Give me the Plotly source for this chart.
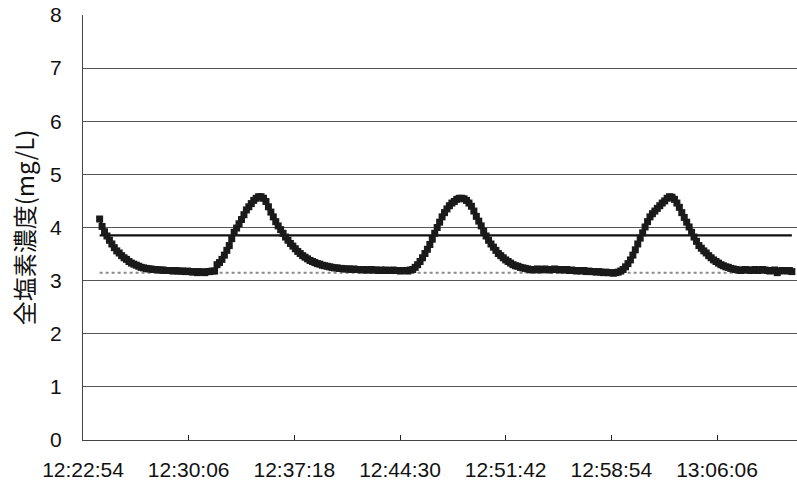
import plotly.graph_objects as go
from datetime import datetime, timedelta

# ---- data ----
day = "2000-01-01 "
start_time = "12:24:02"
interval_s = 10
concentration = [
    4.16, 4.02, 3.92, 3.84, 3.76, 3.69, 3.62, 3.56, 3.52, 3.47,
    3.43, 3.40, 3.36, 3.33, 3.31, 3.29, 3.27, 3.25, 3.24, 3.23,
    3.22, 3.22, 3.21, 3.21, 3.20, 3.20, 3.20, 3.19, 3.19, 3.19,
    3.18, 3.19, 3.18, 3.18, 3.18, 3.17, 3.18, 3.17, 3.16, 3.17,
    3.15, 3.17, 3.16, 3.15, 3.17, 3.17, 3.18, 3.18, 3.30, 3.34,
    3.40, 3.48, 3.57, 3.66, 3.79, 3.91, 3.99, 4.07, 4.15, 4.24,
    4.33, 4.39, 4.45, 4.51, 4.55, 4.58, 4.58, 4.55, 4.49, 4.39,
    4.29, 4.20, 4.11, 4.03, 3.96, 3.89, 3.82, 3.76, 3.70, 3.65,
    3.60, 3.55, 3.51, 3.47, 3.44, 3.41, 3.38, 3.36, 3.34, 3.32,
    3.31, 3.29, 3.28, 3.27, 3.26, 3.25, 3.24, 3.24, 3.23, 3.23,
    3.22, 3.22, 3.22, 3.21, 3.22, 3.21, 3.21, 3.20, 3.21, 3.20,
    3.20, 3.21, 3.20, 3.20, 3.19, 3.20, 3.19, 3.20, 3.19, 3.19,
    3.20, 3.19, 3.19, 3.18, 3.19, 3.19, 3.18, 3.20, 3.21, 3.25,
    3.30, 3.36, 3.43, 3.51, 3.59, 3.68, 3.78, 3.89, 4.00, 4.10,
    4.20, 4.28, 4.35, 4.41, 4.46, 4.49, 4.53, 4.55, 4.55, 4.54,
    4.51, 4.46, 4.40, 4.31, 4.21, 4.12, 4.03, 3.93, 3.84, 3.76,
    3.69, 3.63, 3.57, 3.51, 3.47, 3.43, 3.39, 3.36, 3.33, 3.30,
    3.28, 3.27, 3.25, 3.24, 3.23, 3.22, 3.21, 3.20, 3.21, 3.22,
    3.20, 3.21, 3.22, 3.21, 3.20, 3.21, 3.22, 3.21, 3.20, 3.21,
    3.20, 3.21, 3.19, 3.20, 3.19, 3.18, 3.19, 3.18, 3.19, 3.17,
    3.18, 3.17, 3.17, 3.16, 3.17, 3.16, 3.15, 3.16, 3.15, 3.15,
    3.14, 3.15, 3.16, 3.18, 3.21, 3.26, 3.32, 3.39, 3.48, 3.58,
    3.69, 3.80, 3.90, 4.01, 4.11, 4.20, 4.26, 4.31, 4.36, 4.41,
    4.46, 4.50, 4.55, 4.58, 4.57, 4.53, 4.46, 4.38, 4.28, 4.19,
    4.10, 4.01, 3.91, 3.82, 3.74, 3.66, 3.61, 3.56, 3.52, 3.47,
    3.43, 3.39, 3.36, 3.33, 3.30, 3.28, 3.26, 3.25, 3.23, 3.22,
    3.21, 3.20, 3.19, 3.20, 3.21, 3.20, 3.19, 3.20, 3.21, 3.19,
    3.20, 3.21, 3.20, 3.19, 3.18, 3.19, 3.20, 3.15, 3.18, 3.19,
    3.19, 3.18, 3.19, 3.17,
]
upper_line = 3.85
lower_line = 3.15
axis_start = "12:22:54"
axis_end = "13:11:33"
tick_step_ms = 432000
y_ticks = [0, 1, 2, 3, 4, 5, 6, 7, 8]
y_title = "全塩素濃度(mg/L)"

t0 = datetime.strptime(day + start_time, "%Y-%m-%d %H:%M:%S")
times = [t0 + timedelta(seconds=interval_s * i) for i in range(len(concentration))]

fig = go.Figure()
fig.add_trace(go.Scatter(x=[times[0], times[-1]], y=[upper_line, upper_line],
                         mode="lines", line=dict(color="#111111", width=2.2),
                         hoverinfo="skip", showlegend=False))
fig.add_trace(go.Scatter(x=[times[0], times[-1]], y=[lower_line, lower_line],
                         mode="lines", line=dict(color="#8a8a8a", width=2, dash="dot"),
                         hoverinfo="skip", showlegend=False))
fig.add_trace(go.Scatter(x=times, y=concentration, mode="lines+markers",
                         line=dict(color="#1a1a1a", width=2.5),
                         marker=dict(symbol="square", size=7, color="#1a1a1a"),
                         showlegend=False))

tick_font = dict(family="Liberation Sans, Arial, sans-serif", size=21, color="#111")
fig.update_layout(
    width=797, height=486,
    margin=dict(l=83, r=0, t=15, b=46),
    paper_bgcolor="white", plot_bgcolor="white",
    showlegend=False,
    xaxis=dict(
        type="date",
        range=[day + axis_start, day + axis_end],
        tick0=day + axis_start, dtick=tick_step_ms,
        tickformat="%H:%M:%S",
        showgrid=False, zeroline=False,
        showline=True, linecolor="#444", linewidth=1,
        ticks="inside", ticklen=5, tickcolor="#222",
        tickfont=tick_font, ticklabelstandoff=11,
    ),
    yaxis=dict(
        range=[0, 8], tickvals=y_ticks,
        showgrid=True, gridcolor="#555", gridwidth=1,
        zeroline=False,
        showline=True, linecolor="#444", linewidth=1,
        ticks="", tickfont=tick_font, ticklabelstandoff=16,
        title=dict(text=y_title, standoff=8,
                   font=dict(family="Noto Sans CJK JP", size=24, color="#111")),
    ),
)
fig.write_html("out.html")
